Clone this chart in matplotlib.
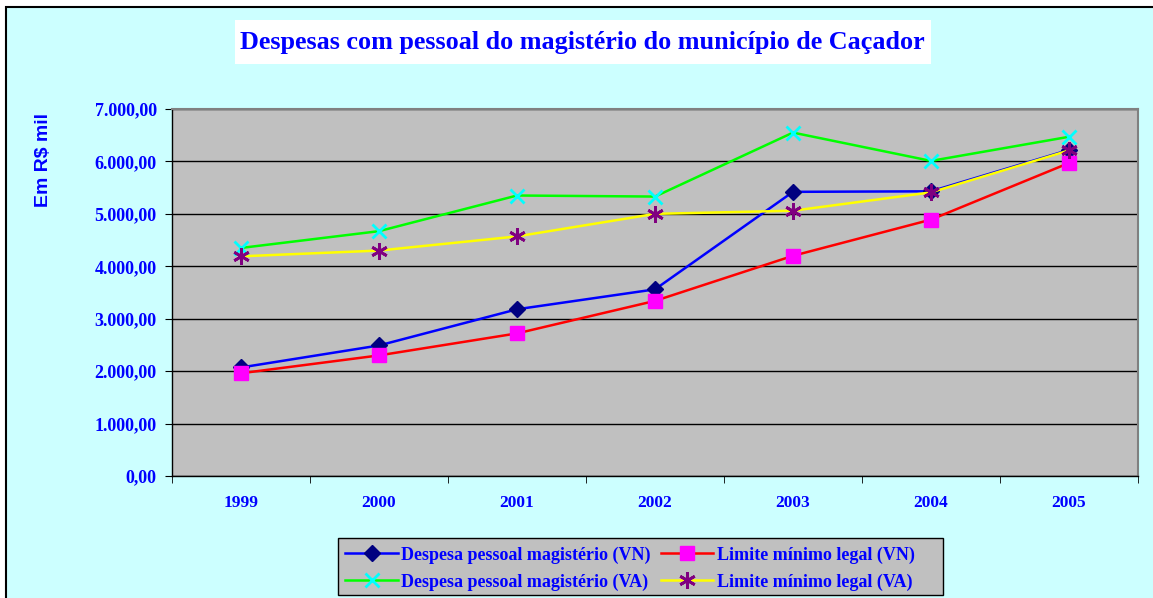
import numpy as np
import matplotlib.pyplot as plt
from matplotlib.patches import Rectangle
from matplotlib.ticker import FuncFormatter, FixedLocator

years = ['1999', '2000', '2001', '2002', '2003', '2004', '2005']
desp_vn = [2070, 2490, 3180, 3560, 5420, 5430, 6220]
lim_vn = [1960, 2300, 2720, 3340, 4200, 4890, 5970]
desp_va = [4350, 4670, 5350, 5330, 6550, 6010, 6470]
lim_va = [4190, 4300, 4570, 5000, 5060, 5410, 6210]

blue = '#0000FF'
serif = 'Liberation Serif'

fig = plt.figure(figsize=(11.53, 5.98), dpi=100, facecolor='white')
# outer chart area
fig.patches.append(Rectangle((6/1153, -0.1), 1.2, 1.1 - 7/598, transform=fig.transFigure,
                             facecolor='#CCFFFF', edgecolor='black', lw=1.5, zorder=-2))
# title box
fig.patches.append(Rectangle((235/1153, 1 - 64/598), 696/1153, 44/598, transform=fig.transFigure,
                             facecolor='white', edgecolor='none', zorder=-1))
fig.text(582/1153, 1 - 43/598, 'Despesas com pessoal do magistério do município de Caçador',
         ha='center', va='center', color=blue, fontsize=18.8, fontweight='bold', family=serif)

# legend box
fig.patches.append(Rectangle((338/1153, 1 - 595/598), 605/1153, 57/598, transform=fig.transFigure,
                             facecolor='#C0C0C0', edgecolor='black', lw=1, zorder=-1))

ax = fig.add_axes([172/1153, 122/598, 966/1153, 367/598])
ax.set_facecolor('#C0C0C0')
x = np.arange(len(years))

l1, = ax.plot(x, desp_vn, color='#0000FF', lw=1.8, marker='D', ms=8,
              mfc='#000080', mec='#000080', label='Despesa pessoal magistério (VN)', zorder=3)
l2, = ax.plot(x, lim_vn, color='#FF0000', lw=1.8, marker='s', ms=10,
              mfc='#FF00FF', mec='#FF00FF', label='Limite mínimo legal (VN)', zorder=3)
l3, = ax.plot(x, desp_va, color='#00FF00', lw=1.8, marker='x', ms=10, mew=2,
              mfc='#00FFFF', mec='#00FFFF', label='Despesa pessoal magistério (VA)', zorder=3)
l4, = ax.plot(x, lim_va, color='#FFFF00', lw=1.8, marker=(6, 2, 0), ms=12, mew=2,
              mfc='#800080', mec='#800080', label='Limite mínimo legal (VA)', zorder=3)

ax.set_xlim(-0.5, len(years) - 0.5)
ax.set_ylim(0, 7000)
ax.set_yticks(np.arange(0, 7001, 1000))
ax.yaxis.set_major_formatter(FuncFormatter(
    lambda v, p: f'{v:,.2f}'.replace(',', '#').replace('.', ',').replace('#', '.')))
ax.grid(axis='y', color='black', lw=1, zorder=1)
ax.set_axisbelow(True)

ax.set_xticks(x)
ax.set_xticklabels(years)
ax.xaxis.set_minor_locator(FixedLocator(np.arange(-0.5, len(years), 1)))
ax.tick_params(axis='x', which='major', length=0, pad=14)
ax.tick_params(axis='x', which='minor', length=5, direction='out', color='black')
ax.tick_params(axis='y', length=5, direction='out', color='black', pad=6)
for lab in ax.get_xticklabels():
    lab.set_color(blue)
    lab.set_fontweight('bold')
    lab.set_family(serif)
    lab.set_fontsize(12.5)
for lab in ax.get_yticklabels():
    lab.set_color(blue)
    lab.set_fontweight('bold')
    lab.set_family(serif)
    lab.set_fontsize(13)

for s in ['top', 'right']:
    ax.spines[s].set_color('#808080')
    ax.spines[s].set_linewidth(1.5)
for s in ['left', 'bottom']:
    ax.spines[s].set_color('black')
    ax.spines[s].set_linewidth(1)

fig.text(44/1153, 1 - 160/598, 'Em R$ mil', rotation=90, ha='center', va='center',
         color=blue, fontsize=14, fontweight='bold', family='Liberation Sans')

leg = fig.legend(handles=[l1, l3, l2, l4], ncol=2, loc='upper left',
                 bbox_to_anchor=(339/1153, 1 - 540/598), frameon=False,
                 prop={'family': serif, 'weight': 'bold', 'size': 13},
                 handlelength=2.9, columnspacing=0.55, handletextpad=0.2,
                 labelspacing=0.55, borderpad=0.35, borderaxespad=0)
for t in leg.get_texts():
    t.set_color(blue)

fig.savefig('out.png', dpi=100)
